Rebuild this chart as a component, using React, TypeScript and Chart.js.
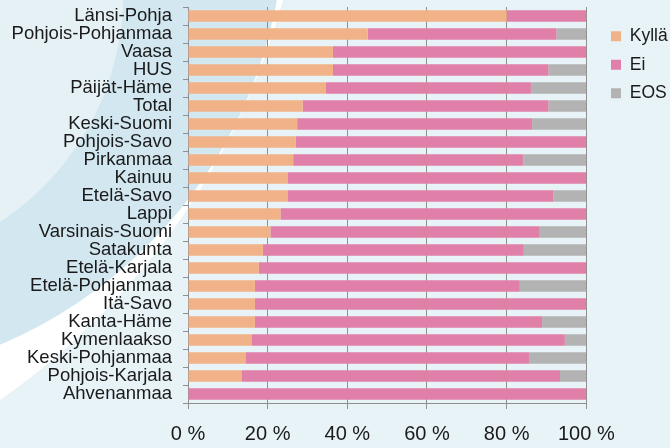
import React, { useEffect, useRef } from 'react';
import { Chart, registerables } from 'chart.js';

Chart.register(...registerables);

const categories = [
  'Länsi-Pohja', 'Pohjois-Pohjanmaa', 'Vaasa', 'HUS', 'Päijät-Häme', 'Total',
  'Keski-Suomi', 'Pohjois-Savo', 'Pirkanmaa', 'Kainuu', 'Etelä-Savo', 'Lappi',
  'Varsinais-Suomi', 'Satakunta', 'Etelä-Karjala', 'Etelä-Pohjanmaa', 'Itä-Savo',
  'Kanta-Häme', 'Kymenlaakso', 'Keski-Pohjanmaa', 'Pohjois-Karjala', 'Ahvenanmaa',
];

const kylla = [80.0, 45.1, 36.4, 36.4, 34.5, 28.8, 27.4, 27.0, 26.4, 25.1, 25.1, 23.2, 20.7, 18.8, 17.8, 16.8, 16.8, 16.8, 15.9, 14.4, 13.4, 0];
const ei = [20.0, 47.4, 63.6, 54.1, 51.6, 61.7, 59.0, 73.0, 57.8, 74.9, 66.6, 76.8, 67.6, 65.5, 82.2, 66.5, 83.2, 72.1, 78.7, 71.2, 80.0, 100];
const eos = [0, 7.5, 0, 9.5, 13.9, 9.5, 13.6, 0, 15.8, 0, 8.3, 0, 11.7, 15.7, 0, 16.7, 0, 11.1, 5.4, 14.4, 6.6, 0];

const seriesNames = ['Kyllä', 'Ei', 'EOS'];
const seriesColors = ['#f1b287', '#e07fa8', '#b3b3b3'];

const xTickValues = [0, 20, 40, 60, 80, 100];

const FONT = '"Liberation Sans", Arial, Helvetica, sans-serif';
const TEXT = '#1a1a1a';
const GRID = '#8f8f8f';

const backgroundPlugin = {
  id: 'swooshBackground',
  beforeDraw(chart: any) {
    const ctx = chart.ctx;
    ctx.save();
    ctx.fillStyle = '#e8f3f8';
    ctx.fillRect(0, 0, chart.width, chart.height);
    ctx.beginPath();
    ctx.arc(-408.7, -189.3, 717.1, 0, Math.PI * 2);
    ctx.fillStyle = '#ffffff';
    ctx.fill();
    ctx.beginPath();
    ctx.arc(-181.4, -84.4, 466, 0, Math.PI * 2);
    ctx.fillStyle = '#d3e7f0';
    ctx.fill();
    ctx.beginPath();
    ctx.arc(-149.5, -5.9, 272.6, 0, Math.PI * 2);
    ctx.fillStyle = '#e6f1f6';
    ctx.fill();
    ctx.restore();
  },
};

const legendPlacement = {
  id: 'legendPlacement',
  afterLayout(chart: any) {
    const lg = chart.legend;
    if (!lg) return;
    const pad = lg.options.labels.padding;
    const w = lg.width;
    lg.left = 611 - pad;
    lg.right = lg.left + w;
    lg.top = 16.5;
  },
};

export default function App() {
  const canvasRef = useRef<HTMLCanvasElement | null>(null);

  useEffect(() => {
    if (!canvasRef.current) return;
    const datasets = [kylla, ei, eos].map((vals, i) => ({
      label: seriesNames[i],
      data: vals,
      backgroundColor: seriesColors[i],
      borderWidth: 0,
      barPercentage: 0.63,
      categoryPercentage: 1,
    }));
    const chart = new Chart(canvasRef.current, {
      type: 'bar',
      data: { labels: categories, datasets },
      plugins: [backgroundPlugin, legendPlacement],
      options: {
        indexAxis: 'y',
        animation: false,
        responsive: false,
        layout: { padding: { top: 7, right: 6, bottom: 0, left: 0 } },
        plugins: {
          tooltip: { enabled: false },
          legend: {
            position: 'right',
            align: 'start',
            labels: {
              boxWidth: 10,
              boxHeight: 10,
              padding: 11,
              color: TEXT,
              font: { family: FONT, size: 17.5 },
            },
          },
        },
        scales: {
          x: {
            stacked: true,
            min: 0,
            max: 100,
            afterFit: (s: any) => { s.height = 45; },
            afterBuildTicks: (s: any) => { s.ticks = xTickValues.map((v) => ({ value: v })); },
            grid: { color: GRID, tickColor: GRID, tickLength: 6, lineWidth: 1 },
            border: { color: GRID, display: true },
            ticks: {
              color: TEXT,
              padding: 13,
              maxRotation: 0,
              font: { family: FONT, size: 20 },
              callback: (v: any) => `${v} %`,
            },
          },
          y: {
            stacked: true,
            afterFit: (s: any) => { s.width = 188; s.paddingTop = 0; s.paddingBottom = 0; },
            grid: { drawOnChartArea: false, drawTicks: true, tickLength: 5, color: GRID, tickColor: GRID },
            border: { color: GRID, display: true },
            ticks: {
              color: TEXT,
              padding: 11,
              autoSkip: false,
              font: { family: FONT, size: 18.5 },
            },
          },
        },
      },
    });
    return () => chart.destroy();
  }, []);

  return (
    <div style={{ position: 'absolute', left: 0, top: 0, width: 670, height: 448 }}>
      <canvas ref={canvasRef} width={670} height={448} />
    </div>
  );
}
